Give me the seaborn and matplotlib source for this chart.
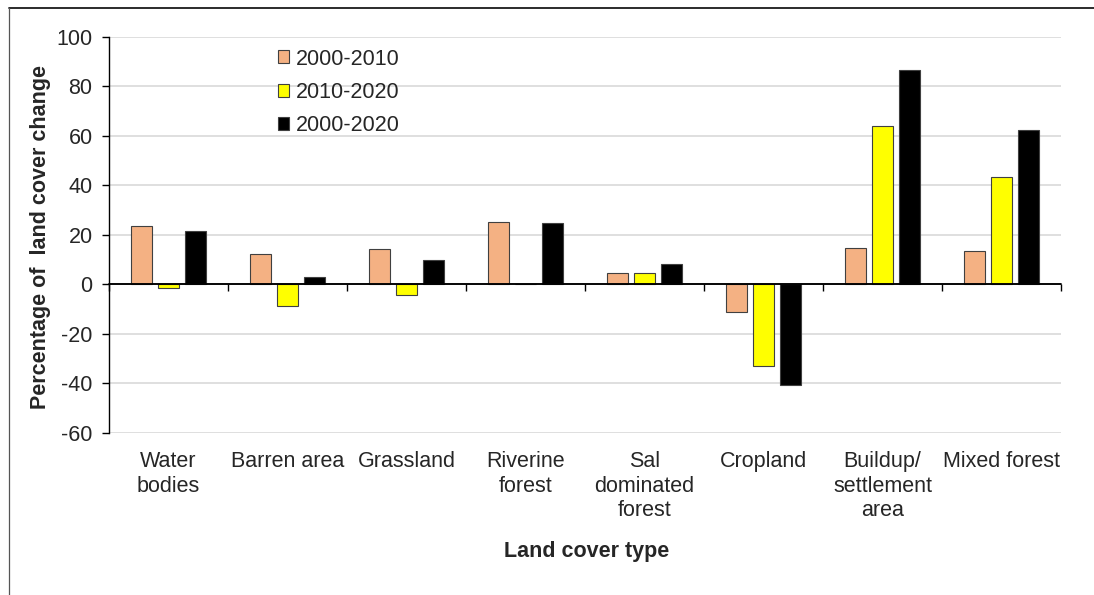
import numpy as np
import pandas as pd
import matplotlib
matplotlib.use("Agg")
import matplotlib.pyplot as plt
from matplotlib.lines import Line2D
from matplotlib.patches import Patch
import seaborn as sns

# Land cover classes and percentage change per period
categories = ["Water\nbodies", "Barren area", "Grassland", "Riverine\nforest",
              "Sal\ndominated\nforest", "Cropland", "Buildup/\nsettlement\narea",
              "Mixed forest"]
periods = ["2000-2010", "2010-2020", "2000-2020"]
change_2000_2010 = [23.7, 12.4, 14.4, 25.3, 4.4, -11.3, 14.6, 13.5]
change_2010_2020 = [-1.5, -8.6, -4.3, 0.0, 4.4, -32.9, 63.9, 43.3]
change_2000_2020 = [21.6, 3.1, 9.7, 24.9, 8.4, -40.6, 86.7, 62.4]
y_ticks = [-60, -40, -20, 0, 20, 40, 60, 80, 100]

palette = {"2000-2010": "#F4B183", "2010-2020": "#FFFF00", "2000-2020": "#000000"}

rows = []
for period, values in zip(periods, [change_2000_2010, change_2010_2020, change_2000_2020]):
    for cat, val in zip(categories, values):
        rows.append({"category": cat, "period": period, "change": val})
df = pd.DataFrame(rows)

sns.set_style("white")
plt.rcParams["font.family"] = ["Liberation Sans", "DejaVu Sans"]
plt.rcParams["axes.unicode_minus"] = False

W, H = 1094, 595
fig = plt.figure(figsize=(W / 100, H / 100), dpi=100)
ax = fig.add_axes([109 / W, 1 - 433 / H, 952 / W, 396.3 / H])

sns.barplot(data=df, x="category", y="change", hue="period", order=categories,
            hue_order=periods, palette=palette, saturation=1, errorbar=None,
            width=0.675, gap=0.22, edgecolor="#404040", linewidth=0.8,
            legend=False, ax=ax)

ax.set_ylim(y_ticks[0], y_ticks[-1])
ax.set_yticks(y_ticks)
ax.set_xlim(-0.5, len(categories) - 0.5)
ax.set_axisbelow(True)
ax.yaxis.grid(True, color="#D9D9D9", linewidth=1.2)
ax.xaxis.grid(False)

for side in ["top", "right", "bottom"]:
    ax.spines[side].set_visible(False)
ax.spines["left"].set_color("black")
ax.spines["left"].set_linewidth(1.0)

ax.tick_params(axis="y", direction="out", length=5.3, width=1, pad=6.5,
               labelsize=15.5, color="black", left=True)
ax.tick_params(axis="x", length=0, pad=13, labelsize=15.5)
for lbl in ax.get_xticklabels():
    lbl.set_linespacing(1.22)

# Zero line with tick marks at the category boundaries
zero_frac = (0 - y_ticks[0]) / (y_ticks[-1] - y_ticks[0])
zero_axis = ax.secondary_xaxis(zero_frac)
zero_axis.set_zorder(5)
zero_axis.set_xticks(np.arange(-0.5, len(categories), 1.0))
zero_axis.tick_params(direction="out", length=5, width=1, color="black",
                      labelbottom=False)
zero_axis.spines["bottom"].set_color("black")
zero_axis.spines["bottom"].set_linewidth(1.1)
ax.axhline(0, color="black", linewidth=1.1, zorder=4)

ax.set_xlabel("Land cover type", fontsize=15.5, fontweight="bold")
ax.xaxis.set_label_coords(0.502, -0.272)
ax.set_ylabel("Percentage of  land cover change", fontsize=15.5, fontweight="bold")
ax.yaxis.set_label_coords(-0.061, 0.495)

handles = [Patch(facecolor=palette[p], edgecolor="#404040", linewidth=0.8) for p in periods]
ax.legend(handles, periods, loc="upper left", bbox_to_anchor=(0.177, 0.97),
          frameon=False, fontsize=15.5, handlelength=0.55, handleheight=0.55,
          handletextpad=0.3, labelspacing=0.56, borderpad=0, borderaxespad=0)

# Outer frame lines
fx, fy = 9.3 / W, 1 - 8.3 / H
fig.add_artist(Line2D([fx, 1.0], [fy, fy], transform=fig.transFigure,
                      color="#1a1a1a", linewidth=1.3))
fig.add_artist(Line2D([fx, fx], [fy, 0.0], transform=fig.transFigure,
                      color="#555555", linewidth=0.9))

fig.savefig("out.png", dpi=100)
